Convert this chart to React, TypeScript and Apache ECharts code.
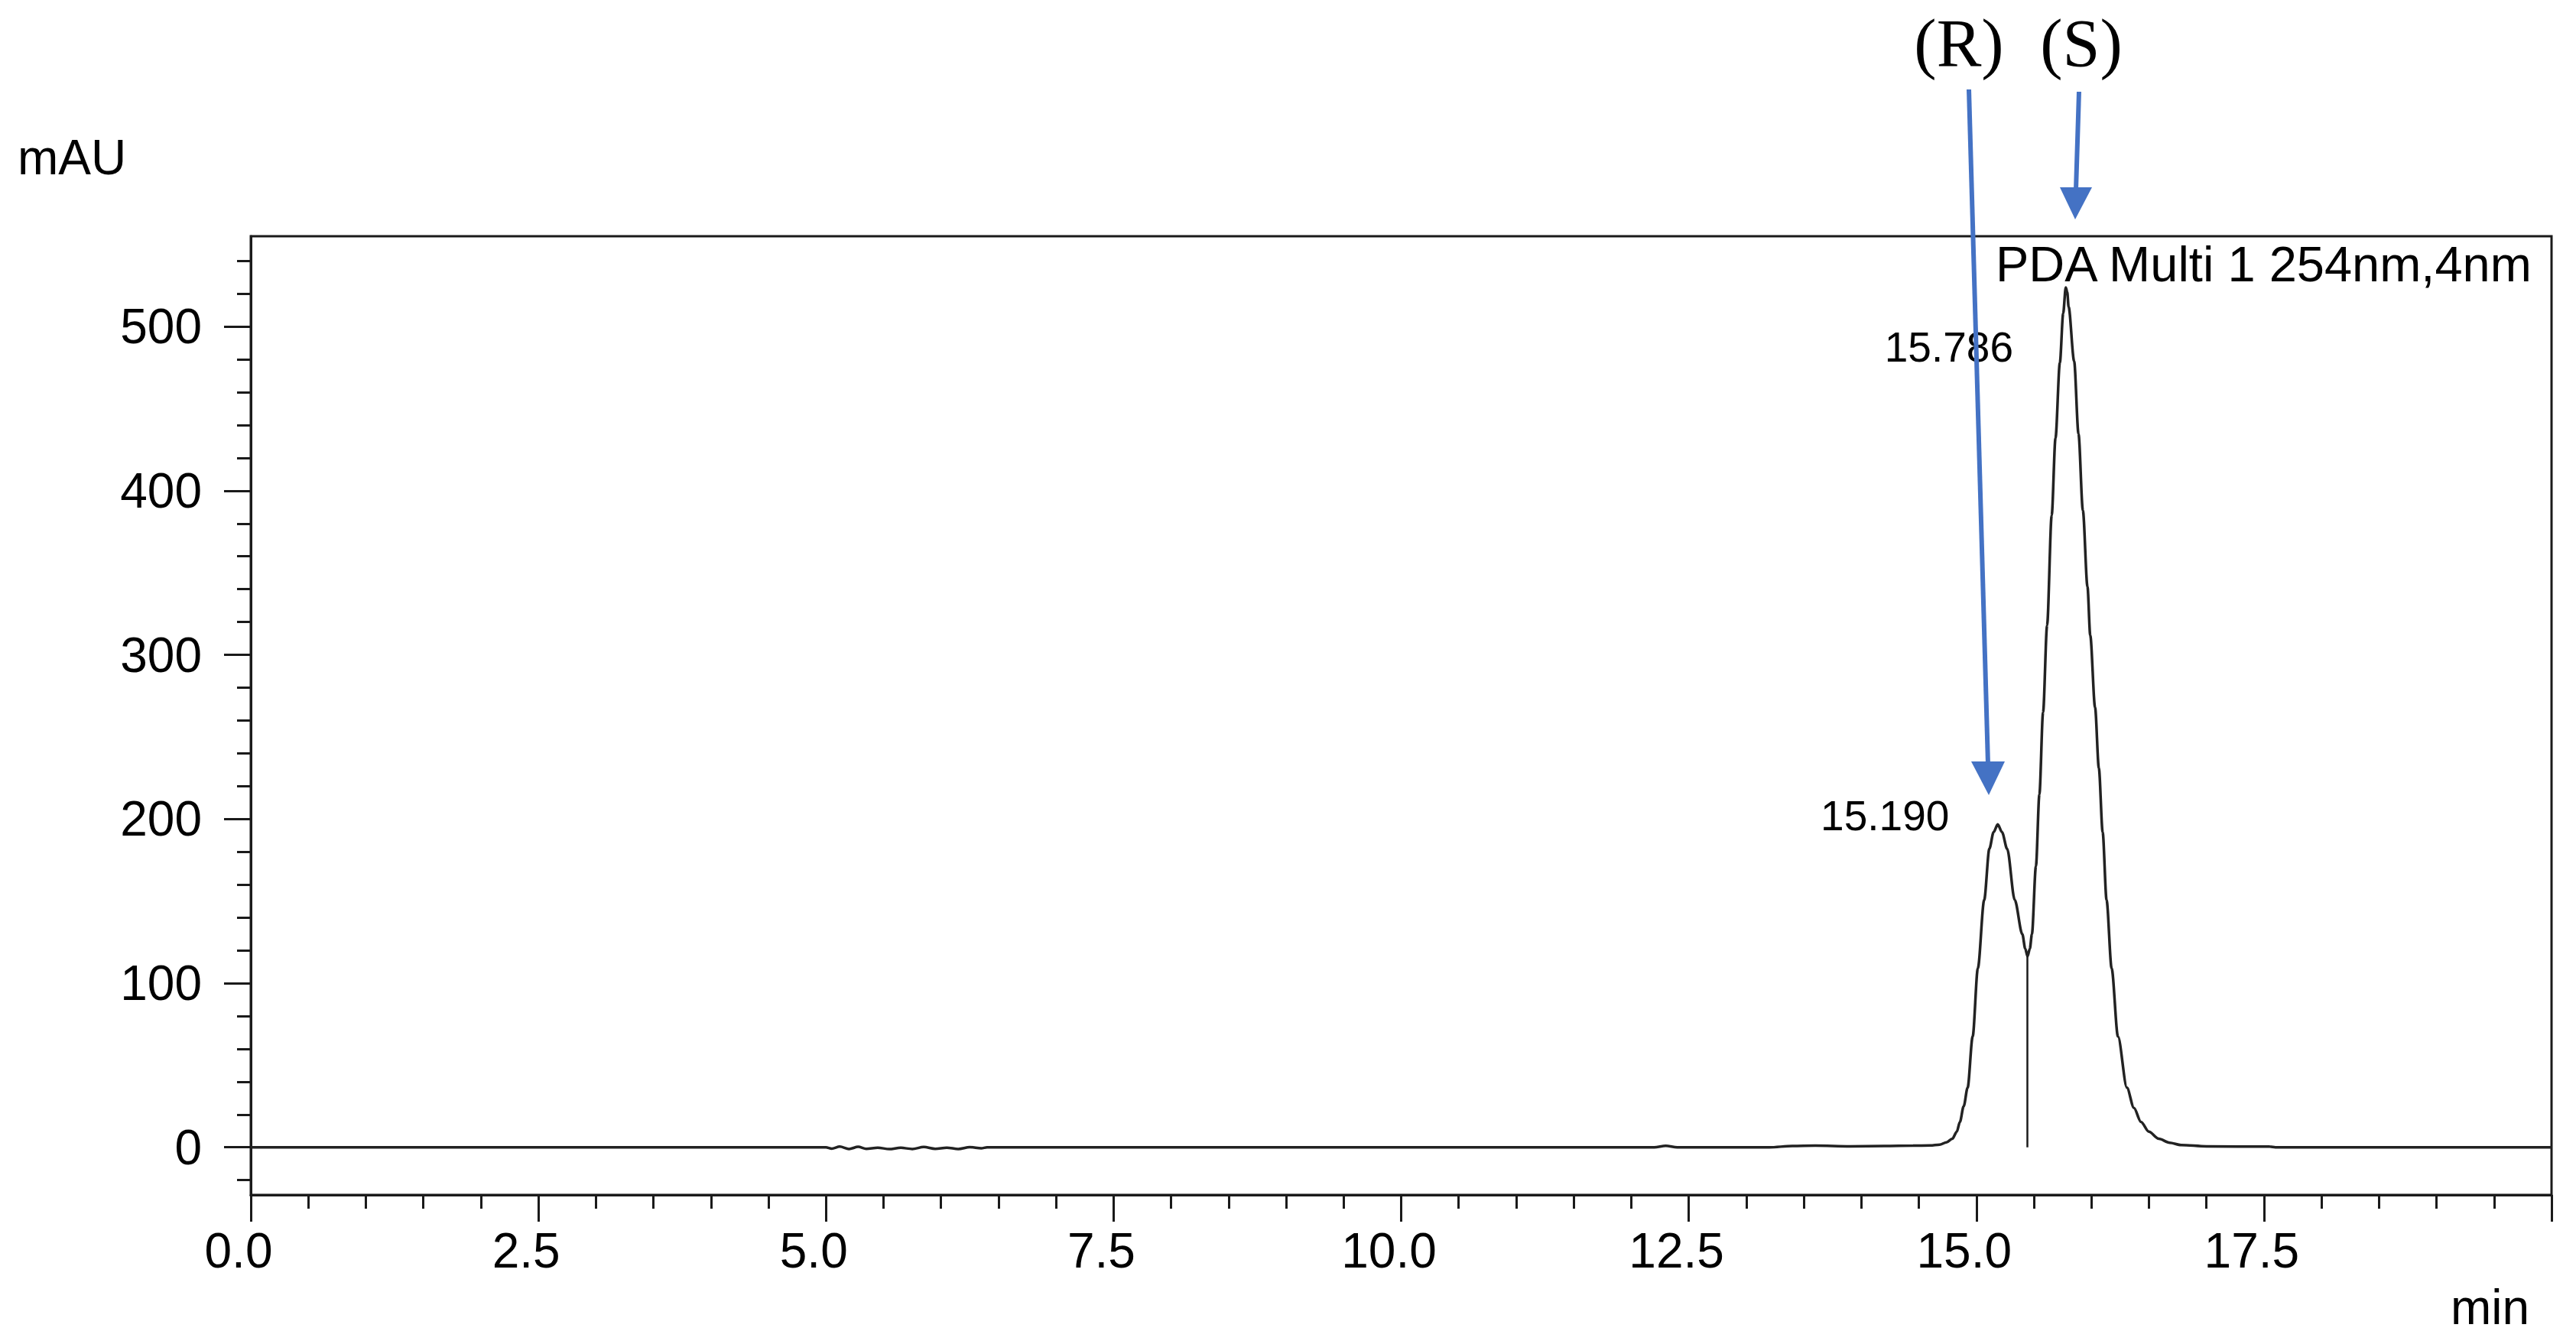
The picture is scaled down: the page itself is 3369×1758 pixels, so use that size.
import React, { useEffect, useRef } from "react";
import * as echarts from "echarts";

// ---- data ----
const retentionTime = [
  0.0, 5.0, 5.05, 5.12, 5.2, 5.28, 5.35, 5.45, 5.55, 5.65, 5.75, 5.85, 5.95, 6.05, 6.15, 6.25, 6.35, 6.4,
  12.2, 12.3, 12.4, 13.2, 13.4, 13.6, 13.9, 14.2, 14.45,
  14.6, 14.681, 14.74, 14.791, 14.83, 14.857, 14.89, 14.924, 14.968, 15.013, 15.068, 15.113, 15.15,
  15.186, 15.223, 15.268, 15.334, 15.4, 15.425, 15.445, 15.465, 15.483, 15.518, 15.548, 15.58, 15.615,
  15.655, 15.688, 15.726, 15.755, 15.777, 15.79, 15.802, 15.85, 15.888, 15.926, 15.966, 15.99,
  16.032, 16.065, 16.098, 16.132, 16.176, 16.231, 16.309, 16.37, 16.431, 16.5, 16.586, 16.68, 16.78,
  17.0, 17.55, 17.6, 20.0,
];
const signal = [
  0, 0, -0.8, 0.4, -1.0, 0.3, -0.9, -0.2, -1.1, -0.3, -1.0, 0.2, -0.9, -0.2, -1.0, 0.1, -0.6, 0,
  0, 0.9, 0, 0, 0.8, 1.0, 0.6, 0.8, 1.0,
  1.1, 1.6, 3.0, 5.2, 9.5, 15.5, 25, 36.3, 67.5, 109, 150.6, 181.8, 192,
  196.7, 192, 181.8, 150.6, 129.8, 121, 116.3, 121, 129.8, 171.3, 215, 265, 318,
  385, 432, 478, 508, 523.8, 521, 512, 479, 434.6, 388, 341.5, 312,
  268, 231, 192, 150.6, 109, 67.5, 36.3, 24, 15.5, 9.5, 5.2, 2.8, 1.4,
  0.6, 0.4, 0, 0,
];

const peakTimes = [15.19, 15.786];
const peakHeights = [196.7, 523.8];
const valleyTime = 15.445;
const valleyHeight = 116.3;

const yTickLabels = [0, 100, 200, 300, 400, 500];
const yMinorTicks = [
  -20, 0, 20, 40, 60, 80, 100, 120, 140, 160, 180, 200, 220, 240, 260, 280, 300, 320, 340, 360, 380,
  400, 420, 440, 460, 480, 500, 520, 540,
];
const xMin = 0;
const xMax = 20;
const xInterval = 2.5;
const yMin = -29;
const yMax = 555;

const seriesName = "PDA Multi 1 254nm,4nm";
const yAxisName = "mAU";
const xAxisName = "min";
const enantiomerLabels = ["(R)", "(S)"];

const FONT = "'Liberation Sans', Arial, sans-serif";
const SERIF = "'Liberation Serif', 'Times New Roman', serif";
const INK = "#1a1a1a";
const BLUE = "#4472C4";

export default function App() {
  const ref = useRef<HTMLDivElement>(null);

  useEffect(() => {
    if (!ref.current) return;
    const chart = echarts.init(ref.current, null, { renderer: "svg" });

    const lineData = retentionTime.map((t, i) => [t, signal[i]]);
    const peakOffsets = [
      [-59, -11],
      [-65, 78],
    ];
    const peakData = peakTimes.map((t, i) => ({
      value: [t, peakHeights[i]],
      label: { offset: peakOffsets[i] },
    }));

    const option: any = {
      animation: false,
      backgroundColor: "#ffffff",
      grid: {
        left: 328,
        right: 32,
        top: 309,
        bottom: 195,
        show: true,
        borderColor: INK,
        borderWidth: 3,
        backgroundColor: "transparent",
        containLabel: false,
        outerBoundsMode: "none",
      },
      legend: {
        show: true,
        data: [{ name: seriesName, icon: "none" }],
        left: 2605,
        top: 312,
        padding: 0,
        itemWidth: 0,
        itemHeight: 66,
        selectedMode: false,
        textStyle: { fontFamily: FONT, fontSize: 65, color: "#000" },
      },
      xAxis: [
        {
          type: "value",
          min: xMin,
          max: xMax,
          interval: xInterval,
          position: "bottom",
          axisLine: { show: true, onZero: false, lineStyle: { color: INK, width: 3 } },
          axisTick: { show: true, inside: false, length: 35, lineStyle: { color: INK, width: 3 } },
          minorTick: { show: true, splitNumber: 5, length: 18, lineStyle: { color: INK, width: 3 } },
          splitLine: { show: false },
          minorSplitLine: { show: false },
          axisLabel: {
            show: true,
            showMaxLabel: false,
            margin: 41,
            padding: [0, 32, 0, 0],
            fontFamily: FONT,
            fontSize: 64,
            color: "#000",
            formatter: (v: number) => v.toFixed(1),
          },
        },
      ],
      yAxis: [
        {
          type: "value",
          min: yMin,
          max: yMax,
          position: "left",
          axisLine: { show: true, onZero: false, lineStyle: { color: INK, width: 3 } },
          axisTick: {
            show: true,
            inside: false,
            length: 35,
            customValues: yTickLabels,
            lineStyle: { color: INK, width: 3 },
          },
          splitLine: { show: false },
          axisLabel: {
            show: true,
            customValues: yTickLabels,
            margin: 64,
            fontFamily: FONT,
            fontSize: 64,
            color: "#000",
          },
        },
        {
          type: "value",
          min: yMin,
          max: yMax,
          position: "left",
          offset: 0,
          axisLine: { show: false },
          axisTick: {
            show: true,
            inside: false,
            length: 18,
            customValues: yMinorTicks,
            lineStyle: { color: INK, width: 3 },
          },
          splitLine: { show: false },
          axisLabel: { show: false },
        },
      ],
      series: [
        {
          name: seriesName,
          type: "line",
          data: lineData,
          xAxisIndex: 0,
          yAxisIndex: 0,
          showSymbol: false,
          symbol: "none",
          smooth: 0.3,
          smoothMonotone: "x",
          lineStyle: { color: "#222", width: 3.5 },
          itemStyle: { color: "#222" },
          markLine: {
            silent: true,
            symbol: ["none", "none"],
            label: { show: false },
            lineStyle: { color: INK, width: 2.5, type: "solid" },
            data: [[{ coord: [valleyTime, 0] }, { coord: [valleyTime, valleyHeight] }]],
          },
        },
        {
          name: "peaks",
          type: "scatter",
          data: peakData,
          symbolSize: 0,
          silent: true,
          itemStyle: { color: "#000", opacity: 1 },
          label: {
            show: true,
            position: "left",
            distance: 5,
            fontFamily: FONT,
            fontSize: 55,
            color: "#000",
            opacity: 1,
            formatter: (p: any) => Number(p.value[0]).toFixed(3),
          },
        },
      ],
      graphic: [
        {
          type: "text",
          x: 23,
          y: 206,
          style: { text: yAxisName, fontFamily: FONT, fontSize: 64, fill: "#000", verticalAlign: "middle", align: "left" },
          silent: true,
        },
        {
          type: "text",
          x: 3205,
          y: 1710,
          style: { text: xAxisName, fontFamily: FONT, fontSize: 64, fill: "#000", verticalAlign: "middle", align: "left" },
          silent: true,
        },
        {
          type: "text",
          x: 2562,
          y: 56,
          style: {
            text: enantiomerLabels[0],
            fontFamily: SERIF,
            fontSize: 88,
            fill: "#000",
            verticalAlign: "middle",
            align: "center",
          },
          silent: true,
        },
        {
          type: "text",
          x: 2722,
          y: 56,
          style: {
            text: enantiomerLabels[1],
            fontFamily: SERIF,
            fontSize: 88,
            fill: "#000",
            verticalAlign: "middle",
            align: "center",
          },
          silent: true,
        },
        {
          type: "line",
          shape: { x1: 2575, y1: 117, x2: 2600, y2: 1000 },
          style: { stroke: BLUE, lineWidth: 6 },
          silent: true,
          z: 10,
        },
        {
          type: "polygon",
          shape: { points: [[2578, 996], [2622, 996], [2601, 1040]] },
          style: { fill: BLUE },
          silent: true,
          z: 10,
        },
        {
          type: "line",
          shape: { x1: 2719, y1: 120, x2: 2715, y2: 249 },
          style: { stroke: BLUE, lineWidth: 6 },
          silent: true,
          z: 10,
        },
        {
          type: "polygon",
          shape: { points: [[2694, 245], [2736, 245], [2714, 287]] },
          style: { fill: BLUE },
          silent: true,
          z: 10,
        },
      ],
    };

    chart.setOption(option);
    return () => chart.dispose();
  }, []);

  return (
    <div
      ref={ref}
      style={{ position: "fixed", left: 0, top: 0, width: 3369, height: 1758, background: "#ffffff" }}
    />
  );
}
